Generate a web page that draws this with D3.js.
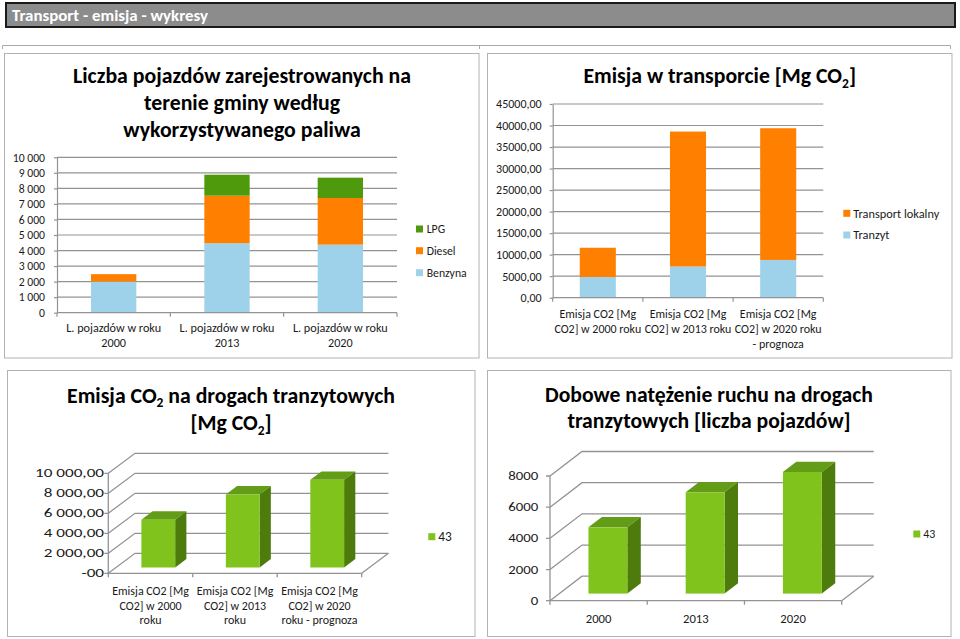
<!DOCTYPE html>
<html><head><meta charset="utf-8">
<script src="https://cdn.jsdelivr.net/npm/d3@7/dist/d3.min.js"></script>
<style>body{margin:0;background:#fff;} text{font-family:Carlito, Lato, sans-serif;}</style>
</head><body>
<svg id="c" width="960" height="639"></svg>
<script>
// ---------------- DATA ----------------
const fuelCategories = ["L. pojazdów w roku\n2000", "L. pojazdów w roku\n2013", "L. pojazdów w roku\n2020"];
const benzyna = [2000, 4470, 4380];
const diesel  = [480, 3060, 3000];
const lpg     = [0, 1350, 1310];
const fuelTicks = [0, 1000, 2000, 3000, 4000, 5000, 6000, 7000, 8000, 9000, 10000];
const fuelTickLabels = ["0", "1 000", "2 000", "3 000", "4 000", "5 000", "6 000", "7 000", "8 000", "9 000", "10 000"];

const emisjaCategories = ["Emisja CO2 [Mg\nCO2] w 2000 roku", "Emisja CO2 [Mg\nCO2] w 2013 roku", "Emisja CO2 [Mg\nCO2] w 2020 roku\n- prognoza"];
const tranzyt = [4800, 7250, 8770];
const lokalny = [6800, 31350, 30600];
const emisjaTicks = [0, 5000, 10000, 15000, 20000, 25000, 30000, 35000, 40000, 45000];
const emisjaTickLabels = ["0,00", "5000,00", "10000,00", "15000,00", "20000,00", "25000,00", "30000,00", "35000,00", "40000,00", "45000,00"];

const tranzytCategories = ["Emisja CO2 [Mg\nCO2] w 2000\nroku", "Emisja CO2 [Mg\nCO2] w 2013\nroku", "Emisja CO2 [Mg\nCO2] w 2020\nroku - prognoza"];
const tranzytEmisja = [4780, 7300, 8770];
const tranzytTicks = [0, 2000, 4000, 6000, 8000, 10000];
const tranzytTickLabels = ["-00", "2 000,00", "4 000,00", "6 000,00", "8 000,00", "10 000,00"];

const ruchCategories = ["2000", "2013", "2020"];
const ruch = [4250, 6500, 7800];
const ruchTicks = [0, 2000, 4000, 6000, 8000];
const ruchTickLabels = ["0", "2000", "4000", "6000", "8000"];

const seriesName3D = "43";

// ---------------- STYLE ----------------
const C_BENZ = "#9dd2ea", C_DIESEL = "#ff8000", C_LPG = "#4f9a0c";
const C_FRONT = "#80c31c", C_TOP = "#639c16", C_SIDE = "#4d7c0c";
const GRID = "#939393", TXT = "#1a1a1a", BOX = "#b3b3b3";
const svg = d3.select("#c");

function measure(str, size, bold) {
  const t = svg.append("text").attr("font-size", size).attr("font-weight", bold ? "bold" : null).text(str);
  const w = t.node().getComputedTextLength(); t.remove(); return w;
}
function sizeFor(str, targetW, bold) { return 20 * targetW / measure(str, 20, bold); }

// header bar
svg.append("rect").attr("x", 6).attr("y", 3).attr("width", 949).attr("height", 24)
  .attr("fill", "#8c8c8c").attr("stroke", "#1a1a1a").attr("stroke-width", 2);
const headTxt = "Transport - emisja - wykresy";
svg.append("text").attr("x", 12).attr("y", 20.5).attr("fill", "#fff")
  .attr("font-size", Math.min(18, sizeFor(headTxt, 196, true))).attr("font-weight", "bold").text(headTxt);
svg.append("path").attr("d", "M2.5,49V45.5H950.5V49M479.5,45.5V49").attr("fill", "none").attr("stroke", "#aaa");

// chart boxes
[[4.5, 53.5, 474.5, 304.5], [487.5, 53.5, 464.5, 304.5], [7.5, 370.5, 467.5, 266], [487.5, 370.5, 463.5, 266]]
  .forEach(b => svg.append("rect").attr("x", b[0]).attr("y", b[1]).attr("width", b[2]).attr("height", b[3])
    .attr("fill", "#fff").attr("stroke", BOX));

function title(lines, cx, baselines, targetW) {
  const texts = lines.map((parts, i) => {
    const t = svg.append("text").attr("x", cx).attr("y", baselines[i]).attr("text-anchor", "middle")
      .attr("font-size", 20).attr("font-weight", "bold").attr("fill", "#000");
    let shifted = false;
    parts.forEach(p => {
      if (typeof p === "object") {
        t.append("tspan").attr("font-size", "0.62em").attr("dy", "0.35em").text(p.s);
        shifted = true;
      } else {
        const ts = t.append("tspan").text(p);
        if (shifted) { ts.attr("dy", "-0.22em"); shifted = false; }
      }
    });
    return t;
  });
  const w = texts[0].node().getComputedTextLength();
  const size = Math.min(22, 20 * targetW / w);
  texts.forEach(t => t.attr("font-size", size));
}

function multiLabel(g, str, x, yc, size, lh) {
  const lines = str.split("\n");
  const t = g.append("text").attr("text-anchor", "middle").attr("font-size", size).attr("fill", TXT);
  lines.forEach((l, i) => t.append("tspan").attr("x", x).attr("y", yc + i * lh + size * 0.35).text(l));
}

function legend(items, x, tx, ys, size) {
  items.forEach((it, i) => {
    svg.append("rect").attr("x", x).attr("y", ys[i] - 3.5).attr("width", 7).attr("height", 7).attr("fill", it.color);
    svg.append("text").attr("x", tx).attr("y", ys[i] + size * 0.35).attr("font-size", size).attr("fill", TXT).text(it.name);
  });
}

// ---------------- STACKED CHART ----------------
function stacked(o) {
  const g = svg.append("g");
  const x = d3.scaleBand().domain(o.cats).range([o.x0, o.x1]).paddingInner(0.6).paddingOuter(0.3);
  const y = d3.scaleLinear().domain([0, d3.max(o.ticks)]).range([o.yb, o.yt]);
  g.selectAll(".gr").data(o.ticks.slice(1)).join("line")
    .attr("x1", o.x0).attr("x2", o.x1).attr("y1", d => y(d)).attr("y2", d => y(d))
    .attr("stroke", GRID).attr("stroke-width", 1.2);
  const keys = o.series.map(s => s.name);
  const rows = o.cats.map((c, i) => { const r = { cat: c }; o.series.forEach(s => r[s.name] = s.values[i]); return r; });
  const st = d3.stack().keys(keys)(rows);
  st.forEach((layer, li) => {
    g.selectAll(null).data(layer).join("rect")
      .attr("x", d => x(d.data.cat)).attr("width", x.bandwidth())
      .attr("y", d => y(d[1])).attr("height", d => y(d[0]) - y(d[1]))
      .attr("fill", o.series[li].color);
  });
  const ya = g.append("g").attr("transform", `translate(${o.x0},0)`)
    .call(d3.axisLeft(y).tickValues(o.ticks).tickFormat((d, i) => o.labels[i]).tickSize(3).tickSizeOuter(0).tickPadding(o.pad));
  ya.select(".domain").attr("stroke", GRID).attr("stroke-width", 1.2);
  ya.selectAll(".tick line").attr("stroke", GRID).attr("stroke-width", 1.2);
  ya.selectAll("text").attr("font-size", o.yfs).attr("fill", TXT).attr("font-family", null);
  const step = x.step();
  let d = `M${o.x0},${o.yb}H${o.x1}`;
  for (let i = 0; i <= o.cats.length; i++) d += `M${o.x0 + i * step},${o.yb}v4`;
  g.append("path").attr("d", d).attr("stroke", GRID).attr("stroke-width", 1.2).attr("fill", "none");
  o.cats.forEach(c => multiLabel(g, c, x(c) + x.bandwidth() / 2, o.labY, o.fs, o.lh));
}

stacked({
  cats: fuelCategories,
  series: [{ name: "Benzyna", values: benzyna, color: C_BENZ }, { name: "Diesel", values: diesel, color: C_DIESEL }, { name: "LPG", values: lpg, color: C_LPG }],
  ticks: fuelTicks, labels: fuelTickLabels,
  x0: 57, x1: 397, yb: 312.7, yt: 157.3, pad: 9,
  yfs: sizeFor("10 000", 32.3), fs: sizeFor("L. pojazdów w roku", 95), labY: 328, lh: 15
});
legend([{ name: "LPG", color: C_LPG }, { name: "Diesel", color: C_DIESEL }, { name: "Benzyna", color: C_BENZ }],
  416, 426.7, [229, 250.7, 272.7], sizeFor("Benzyna", 40));
title([["Liczba pojazdów zarejestrowanych na"], ["terenie gminy według"], ["wykorzystywanego paliwa"]], 242, [83, 110, 136.7], 338);

stacked({
  cats: emisjaCategories,
  series: [{ name: "Tranzyt", values: tranzyt, color: C_BENZ }, { name: "Transport lokalny", values: lokalny, color: C_DIESEL }],
  ticks: emisjaTicks, labels: emisjaTickLabels,
  x0: 552.7, x1: 823.3, yb: 297.7, yt: 104, pad: 8,
  yfs: sizeFor("45000,00", 45.7), fs: sizeFor("Emisja CO2 [Mg", 76.7), labY: 314, lh: 14.7
});
legend([{ name: "Transport lokalny", color: C_DIESEL }, { name: "Tranzyt", color: C_BENZ }],
  843.3, 853.3, [213.3, 235], sizeFor("Transport lokalny", 86));
title([["Emisja w transporcie [Mg CO", { s: "2" }, "]"]], 719.7, [83.3], 272.7);

// ---------------- 3D CHART ----------------
function bars3d(o) {
  const g = svg.append("g");
  const x = d3.scaleBand().domain(o.cats).range([o.x0, o.x1]).paddingInner(0.6).paddingOuter(0.3);
  const y = d3.scaleLinear().domain([0, d3.max(o.ticks)]).range([o.y0, o.yTop]);
  const dx = o.dx, dy = o.dy, f = 0.29, dp = 0.42;
  g.selectAll(null).data(o.ticks).join("path")
    .attr("d", t => `M${o.x0},${y(t)}L${o.x0 + dx},${y(t) + dy}H${o.x1 + dx}`)
    .attr("fill", "none").attr("stroke", GRID).attr("stroke-width", 1.3);
  g.append("path").attr("d", `M${o.x1 + dx},${y(0) + dy}L${o.x1},${y(0)}`).attr("stroke", GRID).attr("stroke-width", 1.3);
  let d = `M${o.x0},${y(d3.max(o.ticks))}V${y(0)}H${o.x1}`;
  o.ticks.forEach(t => d += `M${o.x0 - 4},${y(t)}h4`);
  for (let i = 0; i <= o.cats.length; i++) d += `M${o.x0 + i * x.step()},${y(0)}v4`;
  g.append("path").attr("d", d).attr("fill", "none").attr("stroke", GRID).attr("stroke-width", 1.3);
  o.cats.forEach((c, i) => {
    const xl = x(c) + f * dx, xr = xl + x.bandwidth();
    const yt = y(o.values[i]) + f * dy, yb = y(0) + f * dy;
    const ex = dp * dx, ey = dp * dy;
    g.append("path").attr("d", `M${xl},${yt}L${xl + ex},${yt + ey}H${xr + ex}L${xr},${yt}Z`).attr("fill", C_TOP);
    g.append("path").attr("d", `M${xr},${yt}L${xr + ex},${yt + ey}V${yb + ey}L${xr},${yb}Z`).attr("fill", C_SIDE);
    g.append("rect").attr("x", xl).attr("y", yt).attr("width", x.bandwidth()).attr("height", yb - yt).attr("fill", C_FRONT);
  });
  const sx = o.yTargetW / measure(o.labels[o.labels.length - 1], o.yfs);
  o.ticks.forEach((t, i) => g.append("text")
    .attr("transform", `translate(${o.labR},${y(t) + o.yfs * 0.35}) scale(${sx},1)`)
    .attr("text-anchor", "end").attr("font-size", o.yfs).attr("fill", TXT).text(o.labels[i]));
  o.cats.forEach(c => multiLabel(g, c, x(c) + x.bandwidth() / 2, o.labY, o.fs, o.lh));
}

bars3d({
  cats: tranzytCategories, values: tranzytEmisja, ticks: tranzytTicks, labels: tranzytTickLabels,
  x0: 108.3, x1: 361.7, y0: 573.3, yTop: 473.3, dx: 26.7, dy: -20, labR: 104,
  fs: sizeFor("Emisja CO2 [Mg", 76.7), yfs: 11.5, yTargetW: 69, labY: 590.7, lh: 14.8
});
legend([{ name: seriesName3D, color: C_FRONT }], 428.3, 438.3, [536.7], sizeFor("43", 13.5));
title([["Emisja CO", { s: "2" }, " na drogach tranzytowych"], ["[Mg CO", { s: "2" }, "]"]], 231, [402.7, 430], 328);

bars3d({
  cats: ruchCategories, values: ruch, ticks: ruchTicks, labels: ruchTickLabels,
  x0: 550, x1: 841.7, y0: 600.7, yTop: 476, dx: 32, dy: -24.5, labR: 538.3,
  fs: sizeFor("2000", 25.7), yfs: 11.5, yTargetW: 30, labY: 618.3, lh: 14.8
});
legend([{ name: seriesName3D, color: C_FRONT }], 913.3, 923.3, [534], sizeFor("43", 12));
title([["Dobowe natężenie ruchu na drogach"], ["tranzytowych [liczba pojazdów]"]], 709, [401.7, 428.3], 328);
</script>
</body></html>
